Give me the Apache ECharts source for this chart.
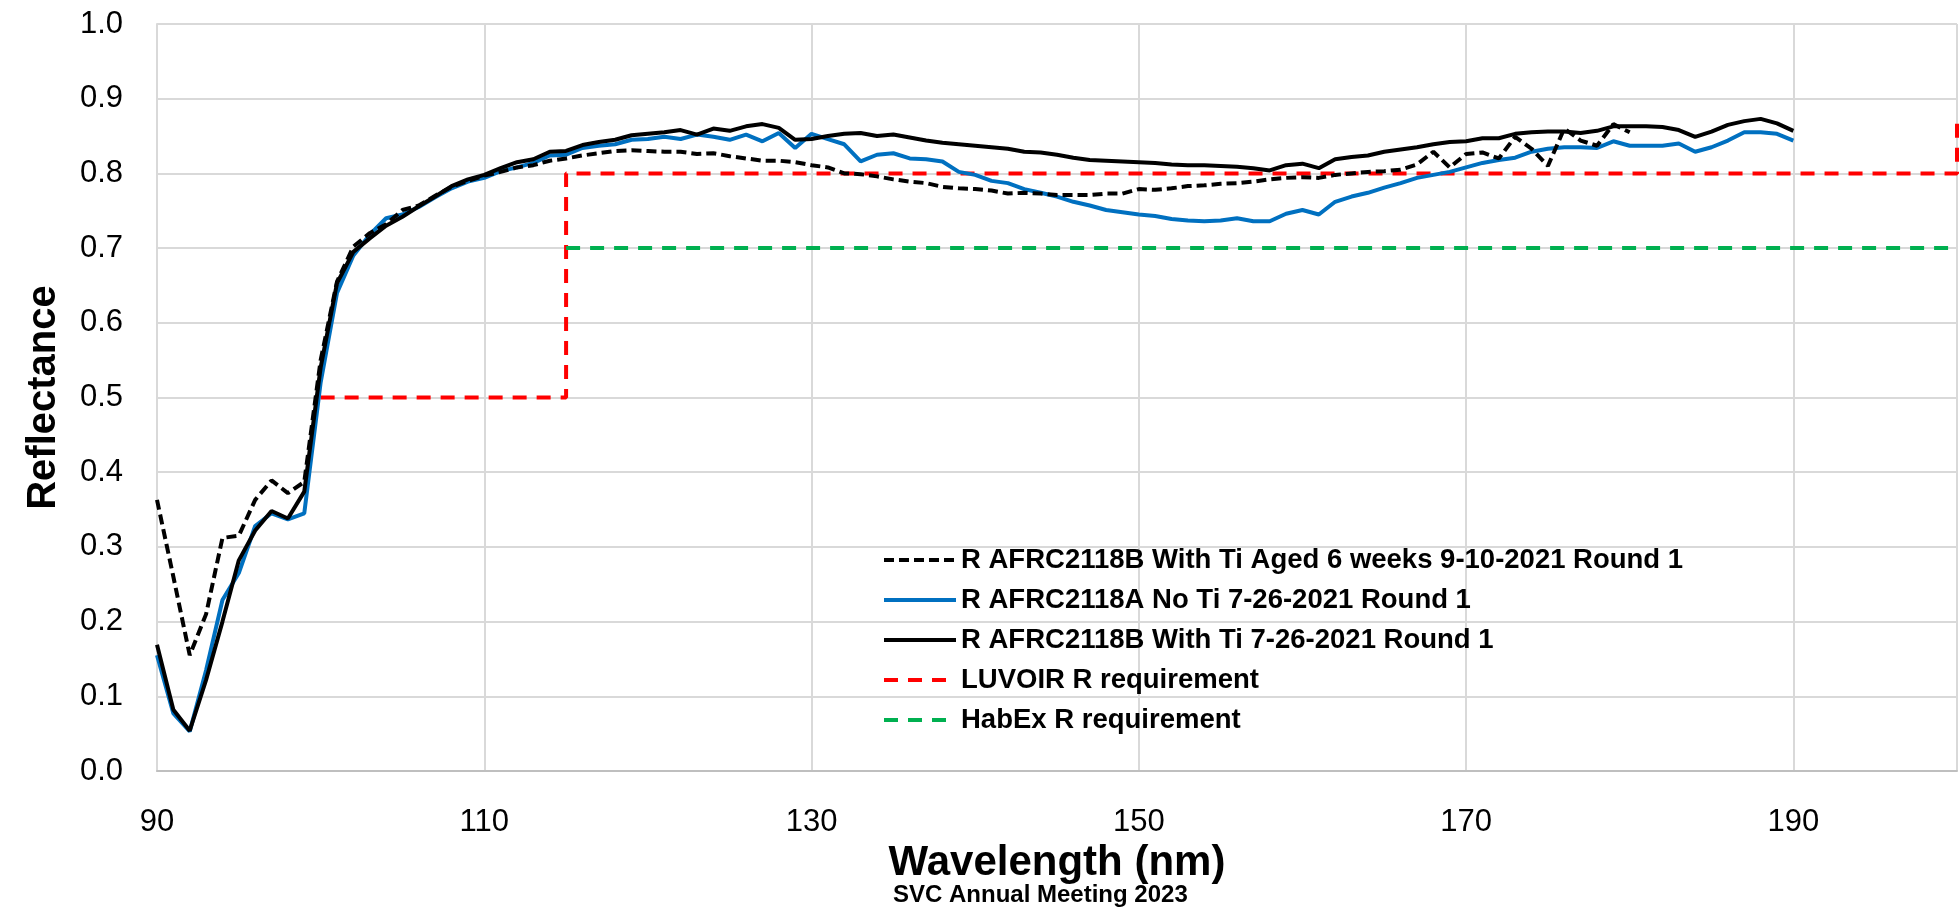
<!DOCTYPE html>
<html>
<head>
<meta charset="utf-8">
<script src="https://cdn.jsdelivr.net/npm/echarts@6/dist/echarts.min.js"></script>
<style>
  html, body { margin: 0; padding: 0; background: #fff; }
  #main { width: 1960px; height: 907px; }
</style>
</head>
<body>
<div id="main"></div>
<script>
// wavelengths (nm), 1 nm steps
var wlLong = [90,91,92,93,94,95,96,97,98,99,100,101,102,103,104,105,106,107,108,109,
  110,111,112,113,114,115,116,117,118,119,120,121,122,123,124,125,126,127,128,129,
  130,131,132,133,134,135,136,137,138,139,140,141,142,143,144,145,146,147,148,149,
  150,151,152,153,154,155,156,157,158,159,160,161,162,163,164,165,166,167,168,169,
  170,171,172,173,174,175,176,177,178,179,180,181,182,183,184,185,186,187,188,189,190];
var wlAged = [90,91,92,93,94,95,96,97,98,99,100,101,102,103,104,105,106,107,108,109,
  110,111,112,113,114,115,116,117,118,119,120,121,122,123,124,125,126,127,128,129,
  130,131,132,133,134,135,136,137,138,139,140,141,142,143,144,145,146,147,148,149,
  150,151,152,153,154,155,156,157,158,159,160,161,162,163,164,165,166,167,168,169,
  170,171,172,173,174,175,176,177,178,179,180];

// R AFRC2118B With Ti Aged 6 weeks 9-10-2021 Round 1
var rAged = [0.363,0.260,0.155,0.210,0.312,0.315,0.363,0.389,0.372,0.387,
  0.550,0.655,0.702,0.720,0.732,0.751,0.757,0.770,0.782,0.790,
  0.797,0.802,0.808,0.811,0.817,0.820,0.824,0.827,0.830,0.831,
  0.830,0.829,0.829,0.826,0.827,0.823,0.820,0.817,0.817,0.815,
  0.811,0.808,0.800,0.799,0.796,0.792,0.789,0.787,0.782,0.780,
  0.779,0.777,0.773,0.774,0.773,0.771,0.771,0.771,0.773,0.773,
  0.779,0.778,0.780,0.783,0.784,0.786,0.787,0.789,0.792,0.794,
  0.795,0.794,0.798,0.800,0.802,0.803,0.805,0.812,0.829,0.808,
  0.826,0.828,0.820,0.849,0.833,0.810,0.860,0.844,0.837,0.866,0.855];

// R AFRC2118A No Ti 7-26-2021 Round 1
var rNoTi = [0.155,0.077,0.053,0.135,0.229,0.265,0.328,0.345,0.337,0.345,
  0.520,0.640,0.690,0.718,0.740,0.745,0.755,0.768,0.780,0.789,
  0.794,0.803,0.808,0.814,0.824,0.825,0.834,0.837,0.839,0.845,
  0.846,0.849,0.846,0.852,0.849,0.845,0.852,0.843,0.854,0.834,
  0.853,0.846,0.839,0.816,0.825,0.827,0.820,0.819,0.816,0.802,
  0.798,0.790,0.787,0.779,0.774,0.769,0.762,0.757,0.751,0.748,
  0.745,0.743,0.739,0.737,0.736,0.737,0.740,0.736,0.736,0.746,
  0.751,0.745,0.762,0.769,0.774,0.781,0.787,0.794,0.798,0.802,
  0.808,0.814,0.818,0.821,0.829,0.833,0.835,0.835,0.834,0.843,
  0.837,0.837,0.837,0.840,0.829,0.835,0.844,0.855,0.855,0.853,0.844];

// R AFRC2118B With Ti 7-26-2021 Round 1
var rWithTi = [0.169,0.082,0.054,0.122,0.200,0.282,0.322,0.348,0.338,0.374,
  0.540,0.653,0.695,0.713,0.730,0.742,0.756,0.769,0.783,0.792,
  0.798,0.807,0.815,0.819,0.829,0.830,0.838,0.842,0.845,0.851,
  0.853,0.855,0.858,0.852,0.860,0.857,0.863,0.866,0.861,0.845,
  0.846,0.850,0.853,0.854,0.850,0.852,0.848,0.844,0.841,0.839,
  0.837,0.835,0.833,0.829,0.828,0.825,0.821,0.818,0.817,0.816,
  0.815,0.814,0.812,0.811,0.811,0.810,0.809,0.807,0.804,0.811,
  0.813,0.807,0.819,0.822,0.824,0.829,0.832,0.835,0.839,0.842,
  0.843,0.847,0.847,0.853,0.855,0.856,0.856,0.854,0.857,0.863,
  0.863,0.863,0.862,0.858,0.849,0.856,0.865,0.870,0.873,0.867,0.857];

// requirement step lines
var luvoirX = [100, 115, 115, 200, 200];
var luvoirY = [0.5, 0.5, 0.8, 0.8, 0.875];
var habexX = [115, 200];
var habexY = [0.7, 0.7];

var xTicks = { min: 90, max: 200, interval: 20 };
var yTicks = { min: 0, max: 1, interval: 0.1 };

function pairs(xs, ys) {
  return xs.map(function (x, i) { return [x, ys[i]]; });
}

var font = 'Liberation Sans, Arial, sans-serif';
var chart = echarts.init(document.getElementById('main'));

chart.setOption({
  animation: false,
  backgroundColor: '#fff',
  grid: { left: 157, right: 3, top: 24, bottom: 136 },
  legend: {
    orient: 'vertical',
    left: 877,
    top: 540,
    itemWidth: 72,
    itemHeight: 14,
    itemGap: 10,
    itemStyle: { opacity: 0 },
    lineStyle: { width: 4 },
    textStyle: { fontFamily: font, fontSize: 27.5, fontWeight: 'bold', color: '#000', lineHeight: 30 },
    data: ['R AFRC2118B With Ti Aged 6 weeks 9-10-2021 Round 1',
           'R AFRC2118A No Ti 7-26-2021 Round 1',
           'R AFRC2118B With Ti 7-26-2021 Round 1',
           'LUVOIR R requirement',
           'HabEx R requirement']
  },
  xAxis: {
    type: 'value',
    min: xTicks.min,
    max: xTicks.max,
    interval: xTicks.interval,
    name: 'Wavelength (nm)',
    nameLocation: 'middle',
    nameGap: 70,
    nameTextStyle: { fontFamily: font, fontSize: 42, fontWeight: 'bold', color: '#000' },
    axisLine: { show: true, lineStyle: { color: '#bfbfbf', width: 2 } },
    axisTick: { show: false },
    axisLabel: { fontFamily: font, fontSize: 31, color: '#000', margin: 36, showMaxLabel: false },
    splitLine: { show: true, lineStyle: { color: '#d9d9d9', width: 2 } }
  },
  yAxis: {
    type: 'value',
    min: yTicks.min,
    max: yTicks.max,
    interval: yTicks.interval,
    name: 'Reflectance',
    nameLocation: 'middle',
    nameGap: 93,
    nameTextStyle: { fontFamily: font, fontSize: 40, fontWeight: 'bold', color: '#000' },
    axisLine: { show: true, lineStyle: { color: '#d9d9d9', width: 2 } },
    axisTick: { show: false },
    axisLabel: {
      fontFamily: font, fontSize: 31, color: '#000', margin: 34,
      formatter: function (v) { return v.toFixed(1); }
    },
    splitLine: { show: true, lineStyle: { color: '#d9d9d9', width: 2 } }
  },
  series: [
    {
      name: 'R AFRC2118B With Ti Aged 6 weeks 9-10-2021 Round 1',
      type: 'line', symbol: 'none', z: 4,
      data: pairs(wlAged, rAged),
      lineStyle: { color: '#000', width: 4, type: [10, 5] },
      itemStyle: { color: '#000' }
    },
    {
      name: 'R AFRC2118A No Ti 7-26-2021 Round 1',
      type: 'line', symbol: 'none', z: 3,
      data: pairs(wlLong, rNoTi),
      lineStyle: { color: '#0070C0', width: 4 },
      itemStyle: { color: '#0070C0' }
    },
    {
      name: 'R AFRC2118B With Ti 7-26-2021 Round 1',
      type: 'line', symbol: 'none', z: 3,
      data: pairs(wlLong, rWithTi),
      lineStyle: { color: '#000', width: 4 },
      itemStyle: { color: '#000' }
    },
    {
      name: 'LUVOIR R requirement',
      type: 'line', symbol: 'none', z: 2,
      data: pairs(luvoirX, luvoirY),
      lineStyle: { color: '#FF0000', width: 4, type: [14, 10] },
      itemStyle: { color: '#FF0000' }
    },
    {
      name: 'HabEx R requirement',
      type: 'line', symbol: 'none', z: 2,
      data: pairs(habexX, habexY),
      lineStyle: { color: '#00B050', width: 4, type: [14, 10] },
      itemStyle: { color: '#00B050' }
    }
  ],
  graphic: [{
    type: 'text',
    left: 893,
    top: 883,
    style: {
      text: 'SVC Annual Meeting 2023',
      fontFamily: font, fontSize: 24, fontWeight: 'bold', fill: '#000'
    }
  }]
});
</script>
</body>
</html>
